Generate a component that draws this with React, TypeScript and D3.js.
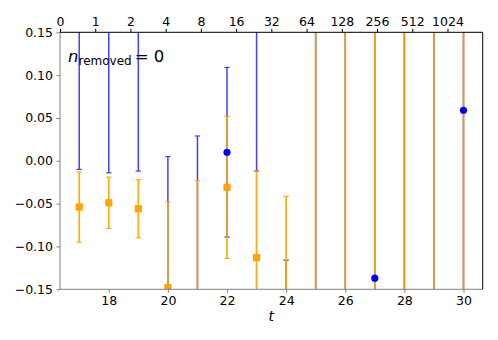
import React, { useRef, useEffect } from "react";
import * as d3 from "d3";

// time slices
const tValues = [17, 18, 19, 20, 21, 22, 23, 24, 25, 26, 27, 28, 29, 30];

// blue series (circles)
const blueMean = [0.25, 0.3, 0.22, -0.25, -0.2, 0.01, 0.35, -0.3, 0.5, -0.6, -0.137, 0.4, -0.5, 0.059];
const blueErr = [0.26, 0.314, 0.232, 0.255, 0.229, 0.099, 0.362, 0.184, 1.0, 1.2, 1.5, 1.2, 1.0, 1.4];

// orange series (squares)
const orangeMean = [-0.054, -0.049, -0.056, -0.148, -0.25, -0.031, -0.113, -0.2, -0.8, 0.9, -1.0, 0.7, -0.6, 1.1];
const orangeErr = [0.041, 0.030, 0.034, 0.100, 0.227, 0.083, 0.101, 0.1585, 1.5, 1.2, 1.4, 1.1, 1.0, 1.5];

const xTicks = [18, 20, 22, 24, 26, 28, 30];
const yTicks = [-0.15, -0.1, -0.05, 0, 0.05, 0.1, 0.15];
const topTickLabels = ["0", "1", "2", "4", "8", "16", "32", "64", "128", "256", "512", "1024"];

function App() {
  const svgRef = useRef<SVGSVGElement>(null);

  useEffect(() => {
    d3.select(svgRef.current).selectAll("*").remove();
    const width = 498;
    const height = 340;
    const margin = { top: 32.3, right: 15.3, bottom: 50.7, left: 60 };
    const innerW = width - margin.left - margin.right;
    const innerH = height - margin.top - margin.bottom;
    const font = "DejaVu Sans, sans-serif";

    const svg = d3.select(svgRef.current)
      .attr("width", width)
      .attr("height", height);

    const x = d3.scaleLinear().domain([16.35, 30.65]).range([0, innerW]);
    const y = d3.scaleLinear().domain([-0.15, 0.15]).range([innerH, 0]);
    const xTop = d3.scaleLinear().domain([0, 12]).range([0, innerW]);

    const g = svg.append("g").attr("transform", `translate(${margin.left},${margin.top})`);

    g.append("defs").append("clipPath").attr("id", "plotclip")
      .append("rect").attr("width", innerW).attr("height", innerH);

    const plot = g.append("g").attr("clip-path", "url(#plotclip)");

    const capHalf = 2.7;
    const drawBars = (means: number[], errs: number[], color: string, opacity: number, lw: number) => {
      const bars = plot.append("g").attr("stroke", color).attr("stroke-width", lw).attr("opacity", opacity);
      tValues.forEach((t, i) => {
        const lo = means[i] - errs[i];
        const hi = means[i] + errs[i];
        bars.append("line")
          .attr("x1", x(t)).attr("x2", x(t))
          .attr("y1", y(lo)).attr("y2", y(hi));
        [lo, hi].forEach(v => {
          bars.append("line")
            .attr("stroke-width", 1.2)
            .attr("x1", x(t) - capHalf).attr("x2", x(t) + capHalf)
            .attr("y1", y(v)).attr("y2", y(v));
        });
      });
    };

    drawBars(blueMean, blueErr, "blue", 0.75, 1.5);
    drawBars(orangeMean, orangeErr, "orange", 0.9, 1.8);

    plot.append("g").selectAll("circle")
      .data(tValues)
      .join("circle")
        .attr("cx", t => x(t))
        .attr("cy", (t, i) => y(blueMean[i]))
        .attr("r", 3.6)
        .attr("fill", "blue");

    const sq = 7.2;
    plot.append("g").selectAll("rect")
      .data(tValues)
      .join("rect")
        .attr("x", t => x(t) - sq / 2)
        .attr("y", (t, i) => y(orangeMean[i]) - sq / 2)
        .attr("width", sq)
        .attr("height", sq)
        .attr("fill", "orange");

    // spines
    const gray = "#808080";
    g.append("line").attr("x1", 0).attr("x2", 0).attr("y1", 0).attr("y2", innerH).attr("stroke", gray);
    g.append("line").attr("x1", 0).attr("x2", innerW).attr("y1", innerH).attr("y2", innerH).attr("stroke", gray);
    g.append("line").attr("x1", 0).attr("x2", innerW).attr("y1", 0).attr("y2", 0).attr("stroke", "black");
    g.append("line").attr("x1", innerW).attr("x2", innerW).attr("y1", 0).attr("y2", innerH).attr("stroke", "black");

    // bottom axis
    const xAxis = d3.axisBottom(x).tickValues(xTicks).tickSize(3.5).tickPadding(3.5).tickFormat(d3.format("d"));
    const gx = g.append("g").attr("transform", `translate(0,${innerH})`).call(xAxis);
    gx.select(".domain").remove();
    gx.selectAll("line").attr("stroke", gray);
    gx.selectAll("text").attr("font-family", font).attr("font-size", 12.5).attr("fill", "black");

    // left axis
    const yAxis = d3.axisLeft(y).tickValues(yTicks).tickSize(3.5).tickPadding(3.5).tickFormat(d3.format(".2f"));
    const gy = g.append("g").call(yAxis);
    gy.select(".domain").remove();
    gy.selectAll("line").attr("stroke", gray);
    gy.selectAll("text").attr("font-family", font).attr("font-size", 12.5).attr("fill", "black");

    // top axis
    const topAxis = d3.axisTop(xTop).tickValues(d3.range(topTickLabels.length)).tickSize(3.5).tickPadding(2.5)
      .tickFormat((d, i) => topTickLabels[i]);
    const gt = g.append("g").call(topAxis);
    gt.select(".domain").remove();
    gt.selectAll("line").attr("stroke", "black");
    gt.selectAll("text").attr("font-family", font).attr("font-size", 12.5).attr("fill", "black");

    // x label
    g.append("text")
      .attr("x", innerW / 2).attr("y", innerH + 32)
      .attr("text-anchor", "middle")
      .attr("font-family", font).attr("font-size", 14).attr("font-style", "italic")
      .text("t");

    // annotation
    const ann = g.append("text")
      .attr("x", 8).attr("y", 29.5)
      .attr("font-family", font).attr("font-size", 16.5);
    ann.append("tspan").attr("font-style", "italic").text("n");
    ann.append("tspan").attr("font-size", 12).attr("dy", 3.5).text("removed");
    ann.append("tspan").attr("dy", -3.5).attr("dx", 3).text("= 0");
  }, []);

  return (
    <div>
      <svg ref={svgRef} style={{ position: "absolute", left: 0, top: 0 }}></svg>
    </div>
  );
}

export default App;
